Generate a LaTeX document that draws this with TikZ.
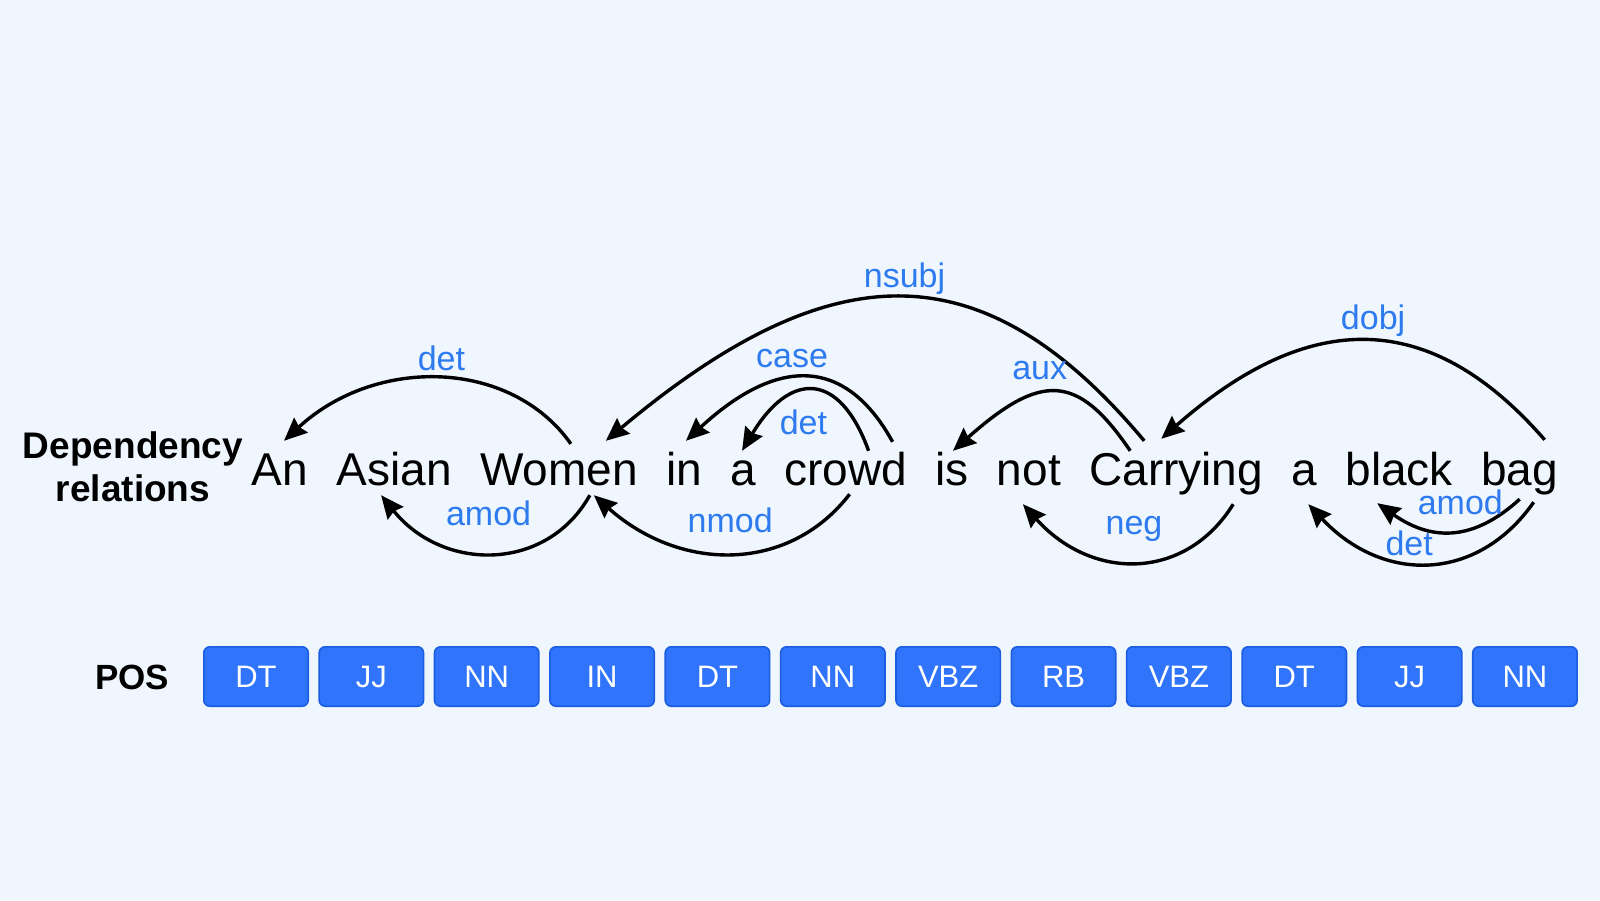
\documentclass[tikz,border=0pt]{standalone}
\usepackage{fontspec}
\setmainfont{Liberation Sans}
\usepackage{tikz}
\usetikzlibrary{arrows.meta}
\usetikzlibrary{positioning}
\definecolor{bgblue}{HTML}{EFF6FE}
\definecolor{tagfill}{HTML}{2F74FA}
\definecolor{tagline}{HTML}{1B5DE0}
\definecolor{relblue}{HTML}{2E7BEF}

\begin{document}
\begin{tikzpicture}[x=1pt,y=-1pt,node distance=28pt,
	  word/.style={inner sep=0pt,text height=34pt,text depth=10pt,font=\fontsize{46}{50}\selectfont},
	  dep/.style={-{Stealth[length=23pt,width=20pt,inset=2.5pt]},line width=3.4pt,black},
	  deplabel/.style={text=relblue,inner sep=0pt,font=\fontsize{34}{36}\selectfont},
	  tagbox/.style={rectangle,rounded corners=6pt,fill=tagfill,draw=tagline,line width=1.6pt,minimum width=104.4pt,minimum height=59.4pt,inner sep=0pt,outer sep=0pt,text=white,font=\fontsize{31}{34}\selectfont},
	  side/.style={font=\bfseries\fontsize{37}{43}\selectfont,align=center}]
	  \fill[bgblue] (0,0) rectangle (1600,900);
	  \useasboundingbox (0,0) rectangle (1600,900);
%
	  \node[side] (deprel) at (133,467) {Dependency\\relations};
	  \node[side,font=\bfseries\fontsize{35}{43}\selectfont] (postag) at (132,677) {POS};
%
	  \node[word,anchor=base] (w1) at (280,485) {An};
	  \node[word,base right=of w1] (w2) {Asian};
	  \node[word,base right=of w2] (w3) {Women};
	  \node[word,base right=of w3] (w4) {in};
	  \node[word,base right=of w4] (w5) {a};
	  \node[word,base right=of w5] (w6) {crowd};
	  \node[word,base right=of w6] (w7) {is};
	  \node[word,base right=of w7] (w8) {not};
	  \node[word,base right=of w8] (w9) {Carrying};
	  \node[word,base right=of w9] (w10) {a};
	  \node[word,base right=of w10] (w11) {black};
	  \node[word,base right=of w11] (w12) {bag};
%
	  \node[tagbox] (t1) at (256,676.5) {DT};
	  \node[tagbox,right=10.96pt of t1] (t2) {JJ};
	  \node[tagbox,right=10.96pt of t2] (t3) {NN};
	  \node[tagbox,right=10.96pt of t3] (t4) {IN};
	  \node[tagbox,right=10.96pt of t4] (t5) {DT};
	  \node[tagbox,right=10.96pt of t5] (t6) {NN};
	  \node[tagbox,right=10.96pt of t6] (t7) {VBZ};
	  \node[tagbox,right=10.96pt of t7] (t8) {RB};
	  \node[tagbox,right=10.96pt of t8] (t9) {VBZ};
	  \node[tagbox,right=10.96pt of t9] (t10) {DT};
	  \node[tagbox,right=10.96pt of t10] (t11) {JJ};
	  \node[tagbox,right=10.96pt of t11] (t12) {NN};
%
	  % arcs above the words
	  \draw[dep] ([xshift=12pt,yshift=7pt]w3.north) .. controls +(-60,-85) and +(92,-85) .. ([xshift=4pt,yshift=10pt]w1.north)
	    node[deplabel,pos=.5,xshift=2pt,yshift=20pt] {det};
	  \draw[dep] ([xshift=-32pt,yshift=10pt]w9.north) .. controls +(-160,-191) and +(228,-191) .. ([xshift=47pt,yshift=10pt]w3.north)
	    node[deplabel,pos=.5,xshift=4pt,yshift=19pt] {nsubj};
	  \draw[dep] ([xshift=47pt,yshift=9pt]w6.north) .. controls +(-47,-85) and +(92,-85) .. ([xshift=2pt,yshift=10pt]w4.north)
	    node[deplabel,pos=.5,xshift=-14pt,yshift=19pt] {case};
	  \draw[dep] ([xshift=23pt]w6.north) .. controls +(-29,-80) and +(48,-80) .. ([xshift=-1pt]w5.north)
	    node[deplabel,pos=.5,xshift=-9pt,yshift=-32pt] {det};
	  \draw[dep] ([xshift=-46pt]w9.north) .. controls +(-53,-78) and +(88,-78) .. ([xshift=1pt]w7.north)
	    node[deplabel,pos=.5,xshift=-15pt,yshift=22pt] {aux};
	  \draw[dep] ([xshift=25pt,yshift=11pt]w12.north) .. controls +(-114,-131) and +(149,-131) .. ([xshift=-15pt,yshift=12pt]w9.north)
	    node[deplabel,pos=.5,xshift=7pt,yshift=20pt] {dobj};
	  % arcs below the words
	  \draw[dep] ([xshift=31pt]w3.south) .. controls +(-43,77) and +(62,77) .. ([xshift=-13pt]w2.south)
	    node[deplabel,pos=.5,xshift=-4pt,yshift=40pt] {amod};
	  \draw[dep] ([xshift=4pt,yshift=1pt]w6.south) .. controls +(-60,78) and +(88,78) .. ([xshift=35pt]w3.south)
	    node[deplabel,pos=.5,xshift=-2pt,yshift=33pt] {nmod};
	  \draw[dep] ([xshift=57pt,yshift=-9pt]w9.south) .. controls +(-48,77) and +(69,77) .. ([xshift=-6pt,yshift=-9pt]w8.south)
	    node[deplabel,pos=.5,xshift=-2pt,yshift=33pt] {neg};
	  \draw[dep] ([yshift=-4pt]w12.south) .. controls +(-44,40) and +(57,40) .. ([xshift=-22pt,yshift=-8pt]w11.south)
	    node[deplabel,pos=.5,xshift=7pt,yshift=29pt] {amod};
	  \draw[dep] ([xshift=14pt,yshift=-7pt]w12.south) .. controls +(-56,80) and +(75,80) .. ([xshift=4pt,yshift=-9pt]w10.south)
	    node[deplabel,pos=.5,xshift=-19pt,yshift=20pt] {det};
\end{tikzpicture}
\end{document}
